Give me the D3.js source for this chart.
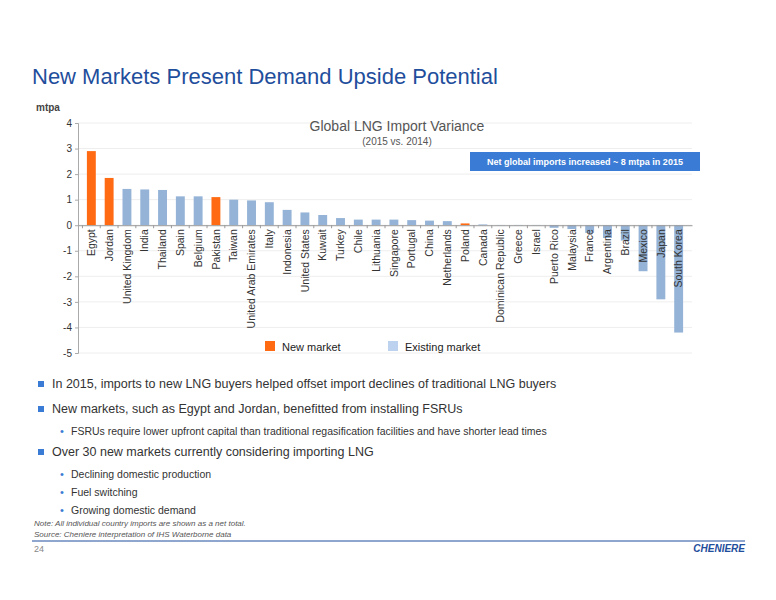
<!DOCTYPE html>
<html><head><meta charset="utf-8">
<script src="https://cdn.jsdelivr.net/npm/d3@7"></script>
<style>body{margin:0;background:#fff}svg{font-family:"Liberation Sans",Arial,sans-serif}</style>
</head><body><svg id="c" width="776" height="600"></svg>
<script>
const countries = ["Egypt","Jordan","United Kingdom","India","Thailand","Spain","Belgium","Pakistan","Taiwan","United Arab Emirates","Italy","Indonesia","United States","Kuwait","Turkey","Chile","Lithuania","Singapore","Portugal","China","Netherlands","Poland","Canada","Dominican Republic","Greece","Israel","Puerto Rico","Malaysia","France","Argentina","Brazil","Mexico","Japan","South Korea"];
const variance = [2.9,1.85,1.42,1.4,1.38,1.13,1.13,1.1,1.0,0.97,0.9,0.6,0.5,0.4,0.28,0.22,0.22,0.22,0.2,0.18,0.16,0.07,0.03,0.01,0.01,0.01,-0.1,-0.15,-0.3,-0.5,-0.6,-1.8,-2.9,-4.2];
const newMarkets = ["Egypt","Jordan","Pakistan","Poland"];
const yTicks = [4,3,2,1,0,-1,-2,-3,-4,-5];
const bullets = [
  {t:"In 2015, imports to new LNG buyers helped offset import declines of traditional LNG buyers", l:1},
  {t:"New markets, such as Egypt and Jordan, benefitted from installing FSRUs", l:1},
  {t:"FSRUs require lower upfront capital than traditional regasification facilities and have shorter lead times", l:2},
  {t:"Over 30 new markets currently considering importing LNG", l:1},
  {t:"Declining domestic production", l:2},
  {t:"Fuel switching", l:2},
  {t:"Growing domestic demand", l:2}
];
const ORANGE="#ff6a13", BLUE="#95b3d7";
const svg = d3.select("#c");

svg.append("text").attr("x",32).attr("y",84).attr("font-size",22).attr("fill","#1f4e9c").text("New Markets Present Demand Upside Potential");
svg.append("text").attr("x",36).attr("y",111).attr("font-size",10).attr("font-weight","bold").attr("fill","#444").text("mtpa");

const x = d3.scaleBand().domain(countries).range([78,692]).padding(0.5);
const y = d3.scaleLinear().domain([-5,4]).range([353,123]);

svg.append("g").selectAll("line").data(yTicks).join("line")
  .attr("x1",78).attr("x2",692).attr("y1",d=>y(d)).attr("y2",d=>y(d)).attr("stroke","#eee");
svg.append("g").attr("transform","translate(78,0)").call(d3.axisLeft(y).tickValues(yTicks).tickSize(3).tickFormat(d3.format("d")))
  .call(g=>{g.selectAll("text").attr("font-size",10).attr("fill","#333").text(d=>String(d));g.select(".domain").attr("stroke","#aaa");g.selectAll("line").attr("stroke","#aaa");});

svg.append("g").selectAll("rect").data(countries).join("rect")
  .attr("x",d=>x(d)).attr("width",x.bandwidth())
  .attr("y",(d,i)=>y(Math.max(0,variance[i]))).attr("height",(d,i)=>Math.abs(y(variance[i])-y(0)))
  .attr("fill",d=>newMarkets.includes(d)?ORANGE:BLUE);

const xa = svg.append("g").attr("transform",`translate(0,${y(0)})`).call(d3.axisBottom(x).tickSize(3).tickSizeOuter(0));
xa.select(".domain").attr("stroke","#999"); xa.selectAll("line").attr("stroke","#999");
xa.selectAll("line").attr("transform",()=>`translate(${-x.step()/2},0)`);
xa.selectAll("text").attr("transform","rotate(-90)").attr("text-anchor","end").attr("x",-4).attr("y",0).attr("dy","0.35em")
  .attr("font-size",10.5).attr("fill","#333");

svg.append("text").attr("x",397).attr("y",131).attr("text-anchor","middle").attr("font-size",14).attr("fill","#555").text("Global LNG Import Variance");
svg.append("text").attr("x",397).attr("y",145).attr("text-anchor","middle").attr("font-size",10).attr("fill","#555").text("(2015 vs. 2014)");

svg.append("rect").attr("x",470).attr("y",152).attr("width",230).attr("height",19).attr("fill","#3a7bd5");
svg.append("text").attr("x",585).attr("y",165).attr("text-anchor","middle").attr("font-size",9).attr("font-weight","bold").attr("fill","#fff").text("Net global imports increased ~ 8 mtpa in 2015");

svg.append("rect").attr("x",265).attr("y",341).attr("width",10).attr("height",10).attr("fill",ORANGE);
svg.append("text").attr("x",282).attr("y",351).attr("font-size",11).attr("fill","#222").text("New market");
svg.append("rect").attr("x",388).attr("y",341).attr("width",10).attr("height",10).attr("fill","#bcd2ee");
svg.append("text").attr("x",405).attr("y",351).attr("font-size",11).attr("fill","#222").text("Existing market");

// bullets
let by = 388;
bullets.forEach((b,i)=>{
  const next = bullets[i+1];
  if(b.l===1){
    svg.append("rect").attr("x",38).attr("y",by-7).attr("width",6).attr("height",6).attr("fill","#3a7bd5");
    svg.append("text").attr("x",52).attr("y",by).attr("font-size",12.5).attr("fill","#333").text(b.t);
    by += next && next.l===2 ? 22 : 25;
  } else {
    svg.append("text").attr("x",60).attr("y",by).attr("font-size",11).attr("fill","#3a7bd5").text("•");
    svg.append("text").attr("x",71).attr("y",by).attr("font-size",10.5).attr("fill","#333").text(b.t);
    by += next && next.l===1 ? 21 : 18;
  }
});

svg.append("text").attr("x",34).attr("y",526).attr("font-size",8).attr("font-style","italic").attr("fill","#555").text("Note: All individual country imports are shown as a net total.");
svg.append("text").attr("x",34).attr("y",537).attr("font-size",8).attr("font-style","italic").attr("fill","#555").text("Source: Cheniere interpretation of  IHS Waterborne data");
svg.append("line").attr("x1",32).attr("x2",745).attr("y1",541).attr("y2",541).attr("stroke","#1f4e9c");
svg.append("text").attr("x",34).attr("y",552).attr("font-size",9).attr("fill","#888").text("24");
svg.append("text").attr("x",745).attr("y",552).attr("text-anchor","end").attr("font-size",10).attr("font-weight","bold").attr("font-style","italic").attr("fill","#1f4e9c").text("CHENIERE");
</script></body></html>
